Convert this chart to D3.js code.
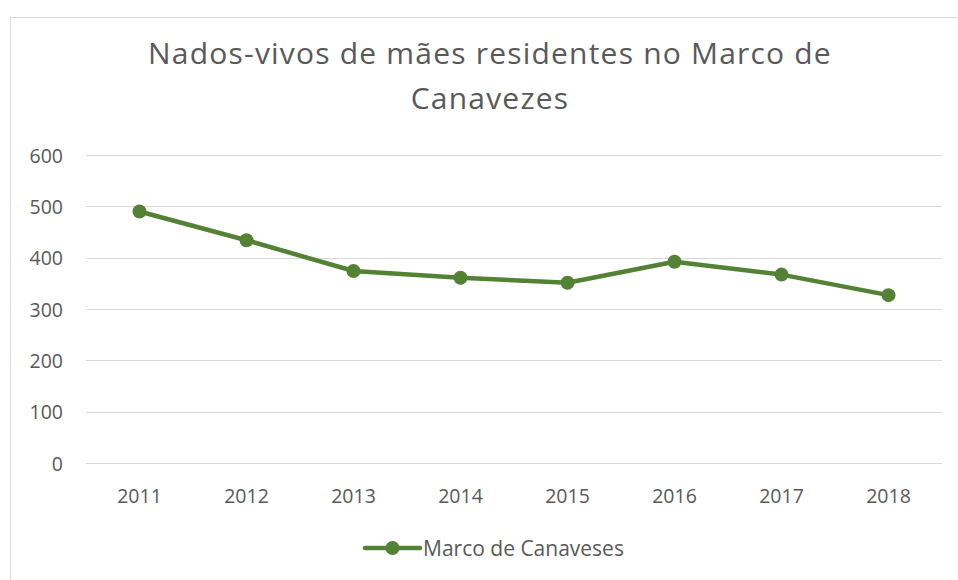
<!DOCTYPE html>
<meta charset="utf-8">
<script src="https://d3js.org/d3.v7.min.js"></script>
<style>
  body { margin: 0; background: #fff; }
  text { font-family: "Open Sans", "Liberation Sans", sans-serif; fill: #595959; }
  .grid line { stroke: #d9d9d9; stroke-width: 1px; shape-rendering: crispEdges; }
  .grid path { stroke-width: 0; }
</style>
<div id="chart"></div>
<script>
  // data
  var years = ["2011", "2012", "2013", "2014", "2015", "2016", "2017", "2018"];
  var births = [490, 434, 374, 361, 351, 392, 367, 327];
  var yTicks = [0, 100, 200, 300, 400, 500, 600];
  var seriesName = "Marco de Canaveses";
  var titleLines = ["Nados-vivos de mães residentes no Marco de", "Canavezes"];

  var W = 958, H = 580;
  var margin = {top: 155, right: 16, bottom: 117, left: 86},
      width = W - margin.left - margin.right,
      height = H - margin.top - margin.bottom;
  var green = "#548235";

  var svg = d3.select("#chart").append("svg")
      .attr("width", W)
      .attr("height", H);

  // chart border
  svg.append("rect")
    .attr("x", 10.5).attr("y", 17.5)
    .attr("width", W + 20).attr("height", H + 20)
    .attr("fill", "none")
    .attr("stroke", "#d9d9d9");

  // title
  svg.append("text")
    .style("text-anchor", "middle")
    .style("font-size", "30px")
    .style("letter-spacing", "1.2px")
    .selectAll("tspan")
    .data(titleLines)
    .enter().append("tspan")
      .attr("x", 490)
      .attr("y", function(d, i) { return 64 + i * 45; })
      .text(function(d) { return d; });

  var g = svg.append("g")
      .attr("transform", "translate(" + margin.left + "," + margin.top + ")");

  var x = d3.scalePoint()
    .domain(years)
    .range([0, width])
    .padding(0.5);

  var y = d3.scaleLinear()
    .domain([0, 600])
    .range([height, 0]);

  // gridlines
  g.append("g")
    .attr("class", "grid")
    .call(d3.axisLeft(y).tickValues(yTicks).tickSize(-width).tickFormat(""));

  // y labels
  g.selectAll(".ylab")
    .data(yTicks)
    .enter().append("text")
      .attr("x", -23)
      .attr("y", function(d) { return y(d) + 7.5; })
      .style("text-anchor", "end")
      .style("font-size", "19.5px")
      .text(function(d) { return d; });

  // x labels
  g.selectAll(".xlab")
    .data(years)
    .enter().append("text")
      .attr("x", function(d) { return x(d); })
      .attr("y", height + 40)
      .style("text-anchor", "middle")
      .style("font-size", "19.5px")
      .text(function(d) { return d; });

  var pts = years.map(function(d, i) { return {year: d, v: births[i]}; });

  g.append("path")
    .datum(pts)
    .attr("fill", "none")
    .attr("stroke", green)
    .attr("stroke-width", 4.5)
    .attr("stroke-linejoin", "round")
    .attr("d", d3.line()
      .x(function(d) { return x(d.year); })
      .y(function(d) { return y(d.v); }));

  g.selectAll(".dot")
    .data(pts)
    .enter().append("circle")
      .attr("cx", function(d) { return x(d.year); })
      .attr("cy", function(d) { return y(d.v); })
      .attr("r", 7)
      .attr("fill", green);

  // legend
  var lg = svg.append("g").attr("transform", "translate(365,548)");
  lg.append("line")
    .attr("x1", 0).attr("x2", 55)
    .attr("stroke", green).attr("stroke-width", 4.5).attr("stroke-linecap", "round");
  lg.append("circle").attr("cx", 27.5).attr("r", 7).attr("fill", green);
  lg.append("text")
    .attr("x", 58).attr("y", 7.5)
    .style("font-size", "21px")
    .text(seriesName);
</script>
